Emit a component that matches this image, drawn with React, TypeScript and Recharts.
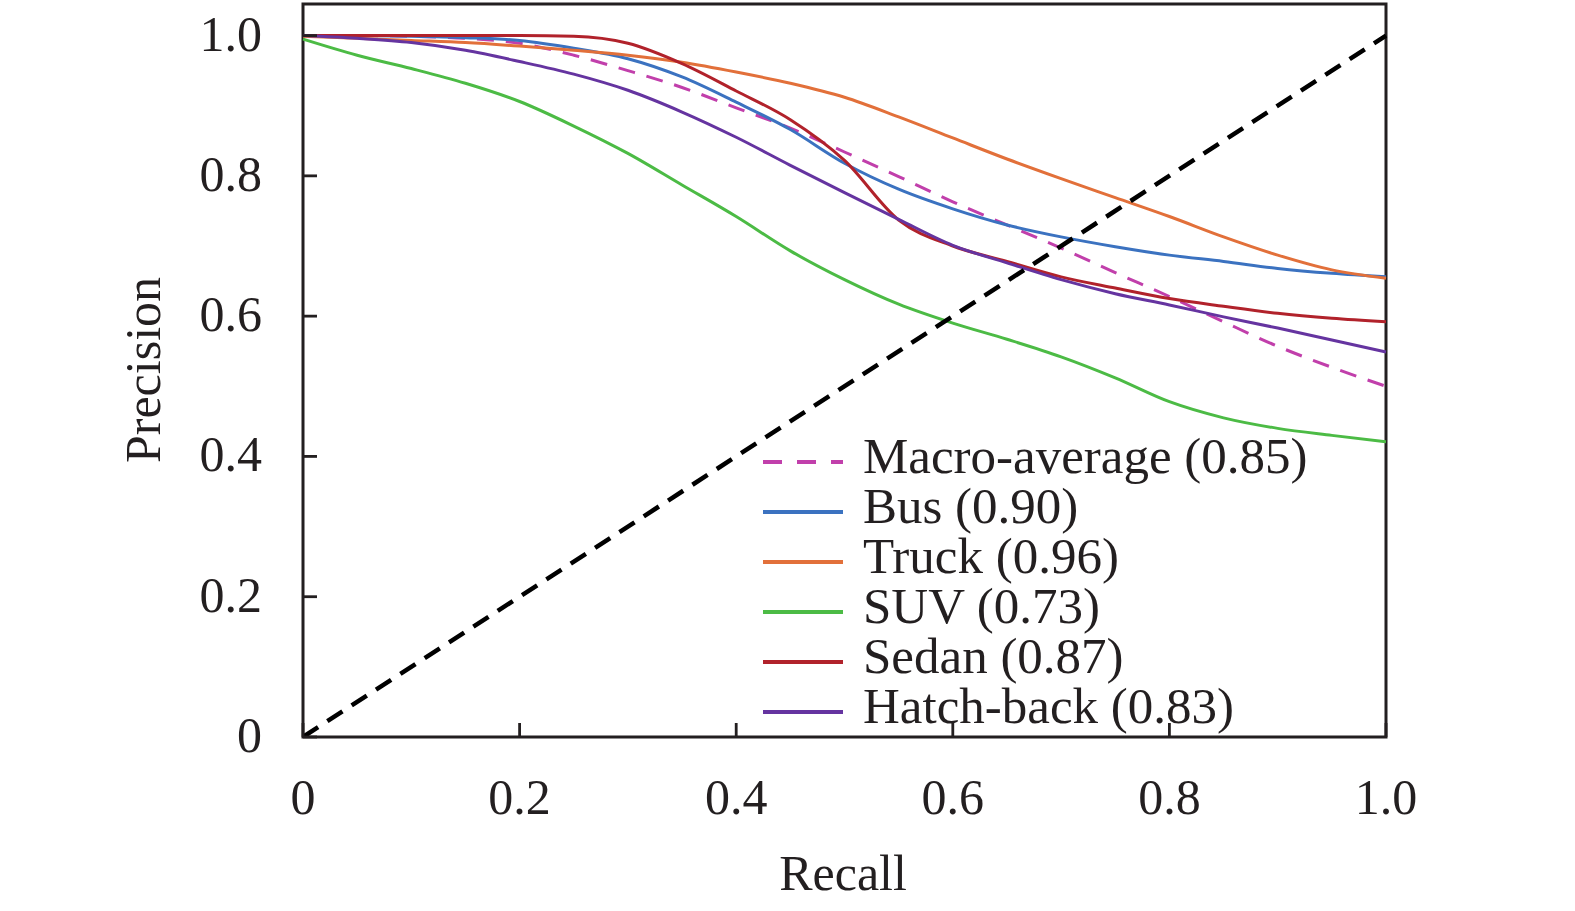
import { LineChart, Line, XAxis, YAxis, ReferenceArea, Legend } from 'recharts';

const INK = '#231f20';
const FONT = "'Liberation Serif', 'Times New Roman', serif";

// recall grid the curves were read at
const recall = [0, 0.05, 0.1, 0.15, 0.2, 0.25, 0.3, 0.35, 0.4, 0.45, 0.5, 0.55, 0.6, 0.65, 0.7, 0.75, 0.8, 0.85, 0.9, 0.95, 1.0];

const macro = [1.0, 1.0, 0.999, 0.996, 0.989, 0.972, 0.95, 0.926, 0.897, 0.868, 0.834, 0.799, 0.763, 0.73, 0.697, 0.662, 0.628, 0.592, 0.557, 0.527, 0.5];
const bus = [1.0, 1.0, 0.999, 0.997, 0.993, 0.982, 0.967, 0.941, 0.905, 0.866, 0.818, 0.781, 0.753, 0.73, 0.713, 0.699, 0.687, 0.678, 0.668, 0.661, 0.656];
const truck = [0.999, 0.996, 0.993, 0.99, 0.985, 0.979, 0.972, 0.962, 0.948, 0.932, 0.912, 0.884, 0.854, 0.824, 0.796, 0.769, 0.742, 0.713, 0.687, 0.666, 0.654];
const suv = [0.995, 0.972, 0.953, 0.932, 0.906, 0.871, 0.832, 0.787, 0.742, 0.693, 0.652, 0.617, 0.59, 0.567, 0.542, 0.512, 0.478, 0.455, 0.44, 0.43, 0.421];
const sedan = [1.0, 1.0, 1.0, 1.0, 1.0, 0.999, 0.989, 0.96, 0.921, 0.88, 0.822, 0.737, 0.7, 0.678, 0.656, 0.64, 0.625, 0.614, 0.604, 0.597, 0.592];
const hatch = [1.0, 0.996, 0.99, 0.979, 0.963, 0.945, 0.922, 0.891, 0.855, 0.815, 0.776, 0.738, 0.701, 0.676, 0.652, 0.632, 0.616, 0.599, 0.583, 0.566, 0.549];

const chance = [
  { recall: 0, p: 0 },
  { recall: 1, p: 1 },
];

const ticks = [0, 0.2, 0.4, 0.6, 0.8, 1.0];

const series = [
  { key: 'macro', name: 'Macro-average (0.85)', color: '#c13fab', dashed: true },
  { key: 'bus', name: 'Bus (0.90)', color: '#3b72c0', dashed: false },
  { key: 'truck', name: 'Truck (0.96)', color: '#e2703a', dashed: false },
  { key: 'suv', name: 'SUV (0.73)', color: '#4cbb45', dashed: false },
  { key: 'sedan', name: 'Sedan (0.87)', color: '#b1222b', dashed: false },
  { key: 'hatch', name: 'Hatch-back (0.83)', color: '#6534a0', dashed: false },
];

const rows = recall.map((r, i) => ({
  recall: r,
  macro: macro[i],
  bus: bus[i],
  truck: truck[i],
  suv: suv[i],
  sedan: sedan[i],
  hatch: hatch[i],
}));

const fmt = (v: number) => (v === 0 ? '0' : v.toFixed(1));

const XTick = ({ x, y, payload }: any) => (
  <g>
    <line x1={x} y1={y} x2={x} y2={y - 14} stroke={INK} strokeWidth={2.8} />
    <text x={x} y={y + 77} textAnchor="middle" fontFamily={FONT} fontSize={50} fill={INK}>
      {fmt(payload.value)}
    </text>
  </g>
);

const YTick = ({ x, y, payload }: any) => (
  <g>
    <line x1={x} y1={y} x2={x + 14} y2={y} stroke={INK} strokeWidth={2.8} />
    <text x={x - 41} y={y + 15} textAnchor="end" fontFamily={FONT} fontSize={50} fill={INK}>
      {fmt(payload.value)}
    </text>
  </g>
);

function LegendBox() {
  return (
    <svg width={700} height={310} style={{ overflow: 'visible' }}>
      {series.map((s, i) => (
        <g key={s.key}>
          <line
            x1={3}
            x2={83}
            y1={25 + i * 50}
            y2={25 + i * 50}
            stroke={s.color}
            strokeWidth={4}
            strokeDasharray={s.dashed ? '19 15' : undefined}
          />
          <text x={103} y={36 + i * 50} fontFamily={FONT} fontSize={51} fill={INK}>
            {s.name}
          </text>
        </g>
      ))}
    </svg>
  );
}

export default function App() {
  return (
    <div style={{ position: 'absolute', left: 0, top: 0, background: '#fff' }}>
      <LineChart width={1575} height={911} data={rows} margin={{ top: 4, right: 189, bottom: 0, left: 0 }}>
        <XAxis
          type="number"
          dataKey="recall"
          domain={[0, 1]}
          ticks={ticks}
          height={174}
          axisLine={false}
          tickLine={false}
          tickSize={0}
          tickMargin={0}
          tick={<XTick />}
          label={() => (
            <text x={843} y={890} textAnchor="middle" fontFamily={FONT} fontSize={50} fill={INK}>
              Recall
            </text>
          )}
        />
        <YAxis
          type="number"
          domain={[0, 1.045]}
          allowDataOverflow
          ticks={ticks}
          width={303}
          axisLine={false}
          tickLine={false}
          tickSize={0}
          tickMargin={0}
          tick={<YTick />}
          label={() => (
            <text
              x={160}
              y={370}
              transform="rotate(-90 160 370)"
              textAnchor="middle"
              fontFamily={FONT}
              fontSize={50}
              fill={INK}
            >
              Precision
            </text>
          )}
        />
        <ReferenceArea x1={0} x2={1} y1={0} y2={1.045} fill="none" stroke={INK} strokeWidth={3} />
        {series.map((s) => (
          <Line
            key={s.key}
            type="monotone"
            dataKey={s.key}
            name={s.name}
            stroke={s.color}
            strokeWidth={3}
            strokeDasharray={s.dashed ? '17 12' : undefined}
            dot={false}
            activeDot={false}
            isAnimationActive={false}
          />
        ))}
        <Line
          data={chance}
          type="linear"
          dataKey="p"
          stroke="#000"
          strokeWidth={4.5}
          strokeDasharray="18 11"
          dot={false}
          activeDot={false}
          legendType="none"
          isAnimationActive={false}
        />
        <Legend
          layout="vertical"
          align="center"
          verticalAlign="middle"
          wrapperStyle={{ left: 760, top: 437, width: 700, height: 310 }}
          content={() => <LegendBox />}
        />
      </LineChart>
    </div>
  );
}
